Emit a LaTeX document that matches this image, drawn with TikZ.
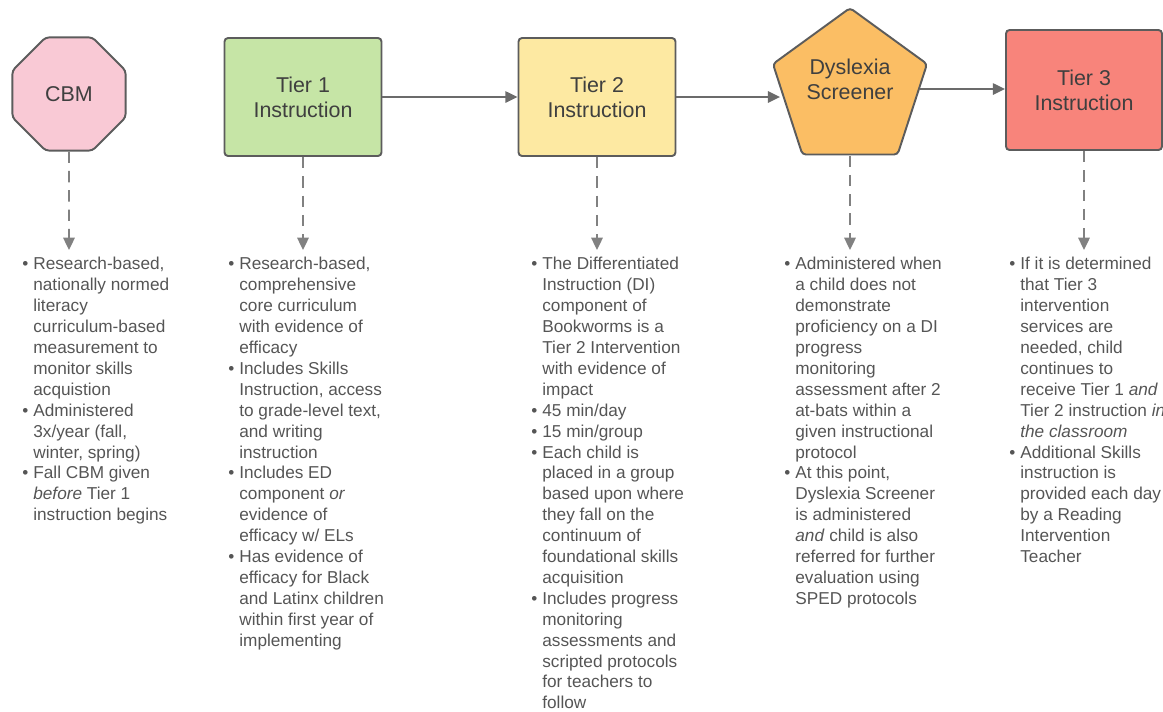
\documentclass[tikz,border=0pt]{standalone}
\usepackage{fontspec}
\setmainfont{Liberation Sans}
\usepackage{xcolor}
\usepackage{tikz}
\usetikzlibrary{shapes.geometric, arrows.meta}

\definecolor{bord}{HTML}{5C5C5C}
\definecolor{trait}{HTML}{6B6B6B}
\definecolor{texte}{HTML}{555555}
\definecolor{titre}{HTML}{3F3F3F}
\definecolor{rose}{HTML}{F9C9D5}
\definecolor{vert}{HTML}{C6E5A6}
\definecolor{jaune}{HTML}{FDE9A2}
\definecolor{orangeds}{HTML}{FBBE64}
\definecolor{rouge}{HTML}{F8847B}

\newcommand{\puce}{\makebox[0.22cm][l]{\textbullet}}
\newcommand{\suite}{\hspace*{0.22cm}}

\begin{document}
\begin{tikzpicture}[x=0.02cm,y=-0.02cm,>={Triangle[length=7pt,width=6.5pt]},
    boite/.style={draw=bord,line width=1.1pt,rounded corners=2pt,minimum width=3.14cm,minimum height=2.36cm,align=center,text=titre,font=\fontsize{12.2}{14.2}\selectfont},
    forme/.style={draw=bord,line width=1.1pt,rounded corners=2pt,inner sep=0pt,align=center,text=titre,font=\fontsize{12.2}{14.2}\selectfont},
    notes/.style={anchor=north west,inner sep=0pt,align=left,text=texte,font=\fontsize{9.8}{11.9}\selectfont},
    fleche/.style={->,draw=trait,line width=1.1pt},
    pointille/.style={->,draw=trait!85!white,line width=1.1pt,dash pattern=on 6.5pt off 4.5pt}]
    \useasboundingbox (0,0) rectangle (1163,711);

    % Les cinq etapes
    \node[forme, regular polygon, regular polygon sides=8, minimum size=2.45cm, fill=rose] (cbm) at (69,94) {CBM};
    \node[boite, fill=vert] (t1) at (303,97) {Tier 1\\Instruction};
    \node[boite, fill=jaune] (t2) at (597,97) {Tier 2\\Instruction};
    \node[forme, regular polygon, regular polygon sides=5, minimum size=3.24cm, fill=orangeds,
        label={[forme,draw=none,yshift=0.2cm]center:{Dyslexia\\Screener}}] (dys) at (850,89) {};
    \node[boite, fill=rouge, minimum width=3.12cm, minimum height=2.4cm] (t3) at (1084,90) {Tier 3\\Instruction};

    % Fleches entre les etapes
    \draw[fleche] (t1) -- (t2);
    \draw[fleche] (t2.east) -- (t2.east -| dys.west);
    \draw[fleche] (dys.east) -- (dys.east -| t3.west);

    % Fleches vers les descriptions
    \coordinate (b1) at (69,250);
    \coordinate (b2) at (303,250);
    \coordinate (b3) at (597,250);
    \coordinate (b4) at (850,250);
    \coordinate (b5) at (1084,250);
    \draw[pointille] (cbm.south) -- (b1);
    \draw[pointille] (t1.south) -- (b2);
    \draw[pointille] (t2.south) -- (b3);
    \draw[pointille] (dys.south) -- (b4);
    \draw[pointille] (t3.south) -- (b5);

    % Descriptions
    \node[notes] (n1) at (22,257) {\puce Research-based,\\ \suite nationally normed\\ \suite literacy\\ \suite curriculum-based\\ \suite measurement to\\ \suite monitor skills\\ \suite acquistion\\
        \puce Administered\\ \suite 3x/year (fall,\\ \suite winter, spring)\\
        \puce Fall CBM given\\ \suite \textit{before} Tier 1\\ \suite instruction begins};
    \node[notes] (n2) at (228,257) {\puce Research-based,\\ \suite comprehensive\\ \suite core curriculum\\ \suite with evidence of\\ \suite efficacy\\
        \puce Includes Skills\\ \suite Instruction, access\\ \suite to grade-level text,\\ \suite and writing\\ \suite instruction\\
        \puce Includes ED\\ \suite component \textit{or}\\ \suite evidence of\\ \suite efficacy w/ ELs\\
        \puce Has evidence of\\ \suite efficacy for Black\\ \suite and Latinx children\\ \suite within first year of\\ \suite implementing};
    \node[notes] (n3) at (531,257) {\puce The Differentiated\\ \suite Instruction (DI)\\ \suite component of\\ \suite Bookworms is a\\ \suite Tier 2 Intervention\\ \suite with evidence of\\ \suite impact\\
        \puce 45 min/day\\
        \puce 15 min/group\\
        \puce Each child is\\ \suite placed in a group\\ \suite based upon where\\ \suite they fall on the\\ \suite continuum of\\ \suite foundational skills\\ \suite acquisition\\
        \puce Includes progress\\ \suite monitoring\\ \suite assessments and\\ \suite scripted protocols\\ \suite for teachers to\\ \suite follow};
    \node[notes] (n4) at (784,257) {\puce Administered when\\ \suite a child does not\\ \suite demonstrate\\ \suite proficiency on a DI\\ \suite progress\\ \suite monitoring\\ \suite assessment after 2\\ \suite at-bats within a\\ \suite given instructional\\ \suite protocol\\
        \puce At this point,\\ \suite Dyslexia Screener\\ \suite is administered\\ \suite \textit{and} child is also\\ \suite referred for further\\ \suite evaluation using\\ \suite SPED protocols};
    \node[notes] (n5) at (1009,257) {\puce If it is determined\\ \suite that Tier 3\\ \suite intervention\\ \suite services are\\ \suite needed, child\\ \suite continues to\\ \suite receive Tier 1 \textit{and}\\ \suite Tier 2 instruction \textit{in}\\ \suite \textit{the classroom}\\
        \puce Additional Skills\\ \suite instruction is\\ \suite provided each day\\ \suite by a Reading\\ \suite Intervention\\ \suite Teacher};
\end{tikzpicture}
\end{document}
